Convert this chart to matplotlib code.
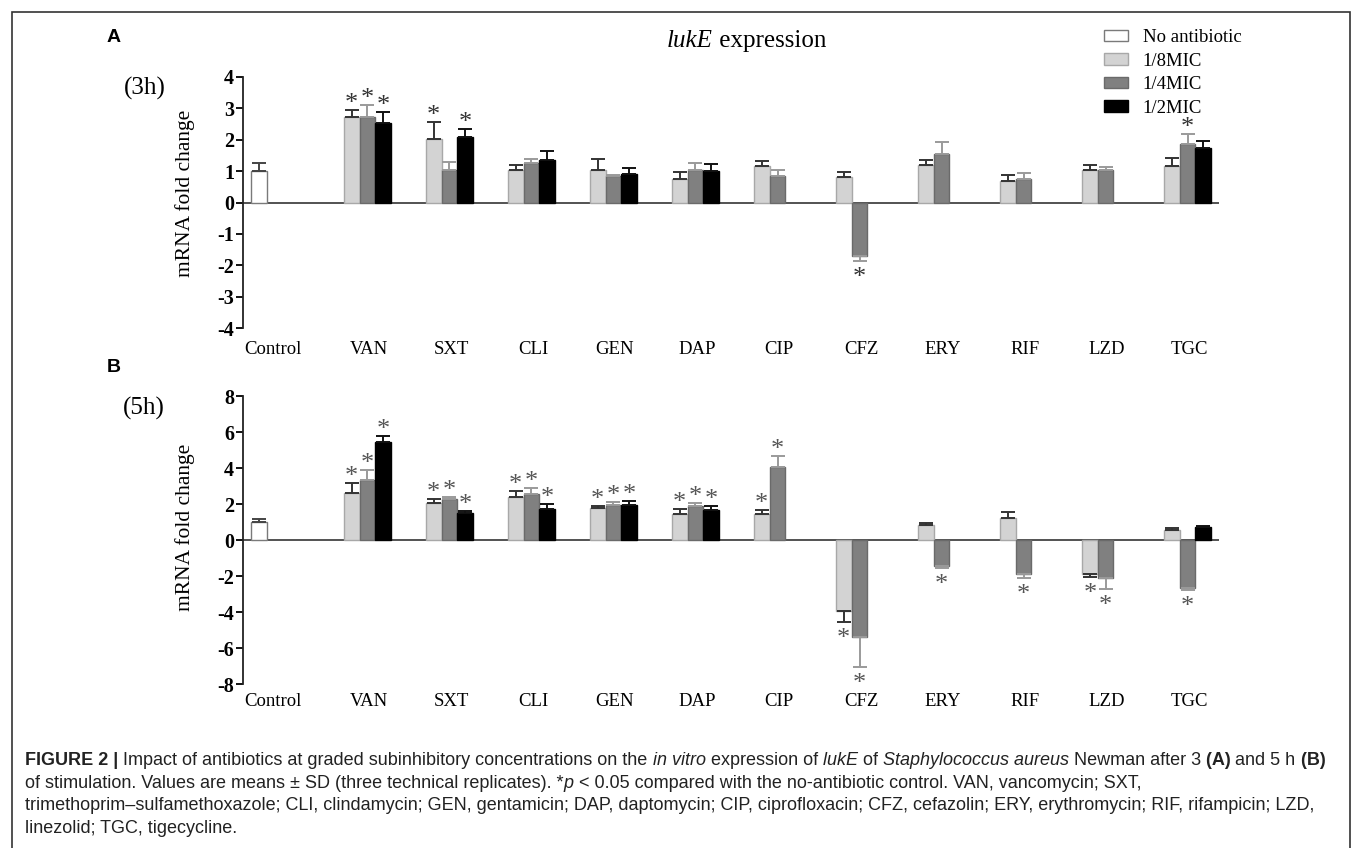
import matplotlib.pyplot as plt
from matplotlib.patches import Patch, Rectangle
import numpy as np

plt.rcParams['axes.unicode_minus'] = False

# data
drugs = ['VAN', 'SXT', 'CLI', 'GEN', 'DAP', 'CIP', 'CFZ', 'ERY', 'RIF', 'LZD', 'TGC']
nan = np.nan

# (A) 3 h
ctrl_3h, ctrl_sd_3h = 1.00, 0.27
mic8_3h = [2.74, 2.03, 1.03, 1.03, 0.76, 1.16, 0.80, 1.19, 0.69, 1.03, 1.16]
sd8_3h = [0.20, 0.53, 0.17, 0.35, 0.20, 0.16, 0.17, 0.18, 0.20, 0.15, 0.27]
mic4_3h = [2.71, 1.03, 1.26, 0.84, 1.03, 0.85, -1.69, 1.53, 0.76, 1.03, 1.87]
sd4_3h = [0.41, 0.27, 0.14, 0.03, 0.23, 0.20, 0.17, 0.40, 0.18, 0.10, 0.30]
mic2_3h = [2.52, 2.10, 1.37, 0.90, 0.99, nan, nan, nan, nan, nan, 1.74]
sd2_3h = [0.38, 0.25, 0.26, 0.19, 0.24, nan, nan, nan, nan, nan, 0.22]
sig8_3h = [1, 1, 0, 0, 0, 0, 0, 0, 0, 0, 0]
sig4_3h = [1, 0, 0, 0, 0, 0, 1, 0, 0, 0, 1]
sig2_3h = [1, 1, 0, 0, 0, 0, 0, 0, 0, 0, 0]

# (B) 5 h
ctrl_5h, ctrl_sd_5h = 0.99, 0.17
mic8_5h = [2.61, 2.06, 2.39, 1.80, 1.45, 1.45, -3.95, 0.86, 1.21, -1.91, 0.57]
sd8_5h = [0.53, 0.20, 0.31, 0.11, 0.26, 0.20, 0.63, 0.10, 0.33, 0.17, 0.11]
mic4_5h = [3.31, 2.28, 2.56, 1.97, 1.91, 4.04, -5.40, -1.47, -1.88, -2.11, -2.67]
sd4_5h = [0.57, 0.09, 0.34, 0.16, 0.13, 0.63, 1.68, 0.09, 0.25, 0.59, 0.12]
mic2_5h = [5.46, 1.51, 1.75, 1.93, 1.64, nan, nan, nan, nan, nan, 0.70]
sd2_5h = [0.33, 0.09, 0.27, 0.22, 0.27, nan, nan, nan, nan, nan, 0.09]
sig8_5h = [1, 1, 1, 1, 1, 1, 1, 0, 0, 1, 0]
sig4_5h = [1, 1, 1, 1, 1, 1, 1, 1, 1, 1, 1]
sig2_5h = [1, 1, 1, 1, 1, 0, 0, 0, 0, 0, 0]

legend_labels = ['No antibiotic', '1/8MIC', '1/4MIC', '1/2MIC']
fills = ['white', '#d3d3d3', '#808080', 'black']
edges = ['#7a7a7a', '#a8a8a8', '#6a6a6a', 'black']
err_cols = ['#444444', '#333333', '#9a9a9a', '#111111']

SERIF = 'Liberation Serif'
SANS = 'Liberation Sans'

fig = plt.figure(figsize=(13.6, 8.48), dpi=100)
W, H = 1360, 848


def px_axes(l, t, r, b):
    return fig.add_axes([l / W, 1 - b / H, (r - l) / W, (b - t) / H])


# group layout (bar width = 1)
centers = 6.9 + np.arange(len(drugs)) * 5.22


def bar_with_err(ax, x, v, sd, k, star, star_col):
    if np.isnan(v):
        return
    ax.bar(x, v, width=1.0, color=fills[k], edgecolor=edges[k], linewidth=1.0, zorder=3)
    if v >= 0:
        yerr = [[0], [sd]]
        cap = v + sd
    else:
        yerr = [[sd], [0]]
        cap = v - sd
    ax.errorbar(x, v, yerr=yerr, fmt='none', ecolor=err_cols[k], elinewidth=1.4,
                capsize=5, capthick=1.4, zorder=4)
    if star:
        off = 0.0 if v >= 0 else -16.5
        ax.annotate('*', xy=(x, cap), xytext=(0, off), textcoords='offset points',
                    ha='center', va='baseline', fontsize=19, family=SERIF,
                    color=star_col, zorder=5)


def panel(ax, ctrl, ctrl_sd, series, sds, sigs, lim, step, star_col, pad):
    bar_with_err(ax, 0, ctrl, ctrl_sd, 0, False, star_col)
    for k in range(3):
        for i in range(len(drugs)):
            bar_with_err(ax, centers[i] + k - 1, series[k][i], sds[k][i], k + 1,
                         sigs[k][i], star_col)
    ax.axhline(0, color='#444444', lw=1.3, zorder=2)
    ax.set_xlim(-1.02, 61.1)
    ax.set_ylim(-lim, lim)
    ax.set_yticks(np.arange(-lim, lim + 0.1, step))
    ax.set_yticklabels([str(int(t)) for t in np.arange(-lim, lim + 0.1, step)],
                       fontfamily=SERIF, fontweight='bold', fontsize=14.5)
    ax.set_xticks([0.9] + list(centers + 0.1))
    ax.set_xticklabels(['Control'] + drugs, fontfamily=SERIF, fontsize=13.5)
    ax.tick_params(axis='x', length=0, pad=pad)
    ax.tick_params(axis='y', length=5, width=1.3, pad=1.5, direction='out')
    for s in ['top', 'right', 'bottom']:
        ax.spines[s].set_visible(False)
    ax.spines['left'].set_linewidth(1.3)
    ax.spines['left'].set_color('#222222')
    ax.patch.set_alpha(0)


axA = px_axes(243, 77, 1219, 328)
panel(axA, ctrl_3h, ctrl_sd_3h, [mic8_3h, mic4_3h, mic2_3h], [sd8_3h, sd4_3h, sd2_3h],
      [sig8_3h, sig4_3h, sig2_3h], 4, 1, '#333333', 9)

axB = px_axes(243, 396, 1219, 684)
panel(axB, ctrl_5h, ctrl_sd_5h, [mic8_5h, mic4_5h, mic2_5h], [sd8_5h, sd4_5h, sd2_5h],
      [sig8_5h, sig4_5h, sig2_5h], 8, 2, '#555555', 6.5)

# labels around the panels
fig.text(107 / W, 1 - 38 / H, 'A', family=SANS, fontweight='bold', fontsize=14, va='center')
fig.text(107 / W, 1 - 368 / H, 'B', family=SANS, fontweight='bold', fontsize=14, va='center')
fig.text(124 / W, 1 - 88 / H, '(3h)', family=SERIF, fontsize=18, va='center')
fig.text(123 / W, 1 - 408 / H, '(5h)', family=SERIF, fontsize=18, va='center')
fig.text(185 / W, 1 - 193 / H, 'mRNA fold change', family=SERIF, fontsize=15.5,
         rotation=90, ha='center', va='center')
fig.text(185 / W, 1 - 527 / H, 'mRNA fold change', family=SERIF, fontsize=15.5,
         rotation=90, ha='center', va='center')

handles = [Patch(facecolor=fills[k], edgecolor=edges[k], lw=1.0) for k in range(4)]
fig.legend(handles, legend_labels, loc='upper left', bbox_to_anchor=(1104 / W, 1 - 29 / H),
           frameon=False, prop={'family': SERIF, 'size': 13.5}, handlelength=1.27,
           handleheight=0.55, handletextpad=0.8, labelspacing=0.35, borderpad=0,
           borderaxespad=0)

renderer = fig.canvas.get_renderer()


def rich_line(x, y, pieces, family, size, color):
    # draws pieces one after another on a baseline, x/y in pixels
    for txt, style in pieces:
        t = fig.text(x / W, 1 - y / H, txt, family=family, fontsize=size, color=color,
                     fontweight='bold' if style == 'b' else 'normal',
                     fontstyle='italic' if style == 'i' else 'normal', va='baseline')
        x += t.get_window_extent(renderer).width


# title
title_pieces = [('lukE', 'i'), (' expression', 'n')]
rich_line(667, 47, title_pieces, SERIF, 18, 'black')

cap_lines = [
    [('FIGURE 2 |', 'b'),
     (' Impact of antibiotics at graded subinhibitory concentrations on the', 'n'),
     (' in vitro', 'i'), (' expression of', 'n'), (' lukE', 'i'), (' of', 'n'),
     (' Staphylococcus aureus', 'i'), (' Newman after 3', 'n'), (' (A)', 'b'),
     (' and 5 h', 'n'), (' (B)', 'b')],
    [('of stimulation. Values are means \u00b1 SD (three technical replicates). *', 'n'),
     ('p', 'i'), (' < 0.05 compared with the no-antibiotic control. VAN, vancomycin; SXT,', 'n')],
    [('trimethoprim\u2013sulfamethoxazole; CLI, clindamycin; GEN, gentamicin; DAP, daptomycin; '
      'CIP, ciprofloxacin; CFZ, cefazolin; ERY, erythromycin; RIF, rifampicin; LZD,', 'n')],
    [('linezolid; TGC, tigecycline.', 'n')],
]
for j, line in enumerate(cap_lines):
    rich_line(25, 765 + j * 22.7, line, SANS, 13, '#222222')

# frame around the figure
fig.patches.append(Rectangle((12 / W, -0.1), 1338 / W, 1.1 - 12 / H, transform=fig.transFigure,
                             fill=False, edgecolor='#333333', lw=1.2))

fig.savefig('out.png', dpi=100)
